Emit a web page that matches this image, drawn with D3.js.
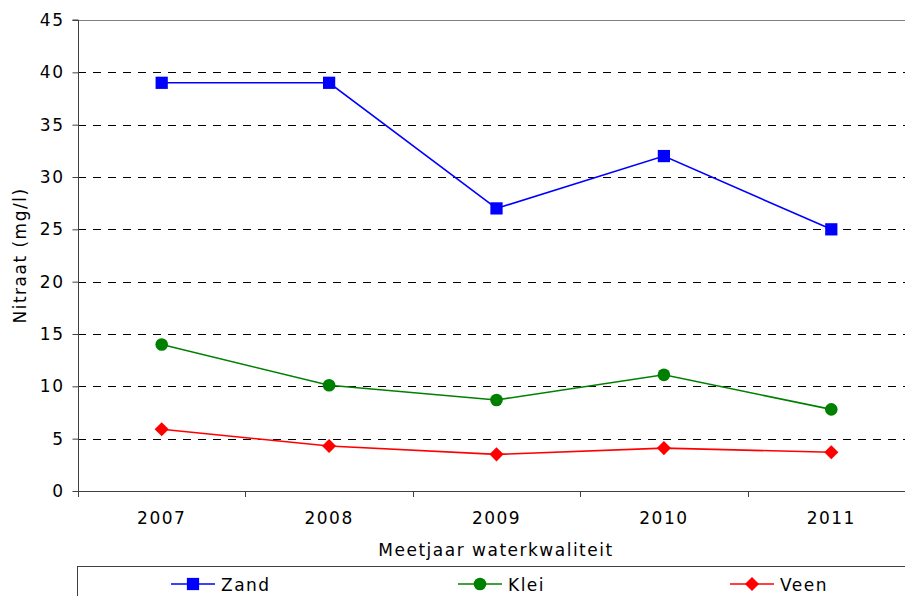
<!DOCTYPE html>
<html>
<head>
<meta charset="utf-8">
<script src="https://cdn.jsdelivr.net/npm/d3@7"></script>
<style>
  body { margin: 0; background: #fff; }
  svg text { font-family: 'DejaVu Sans', Verdana, sans-serif; fill: #000; letter-spacing: 1.5px; }
</style>
</head>
<body>
<div id="chart"></div>
<script>
// meetjaren en nitraatgehalten (mg/l)
const years = ['2007', '2008', '2009', '2010', '2011']
const zand = [39, 39, 27, 32, 25]
const klei = [14, 10.1, 8.7, 11.1, 7.8]
const veen = [5.9, 4.3, 3.5, 4.1, 3.7]
const yTicks = [0, 5, 10, 15, 20, 25, 30, 35, 40, 45]

const series = [
  { name: 'Zand', values: zand, color: '#0000ff', symbol: d3.symbolSquare, size: 150, rot: 0 },
  { name: 'Klei', values: klei, color: '#008000', symbol: d3.symbolCircle, size: 125, rot: 0 },
  { name: 'Veen', values: veen, color: '#ff0000', symbol: d3.symbolSquare, size: 100, rot: 45 }
]

const W = 905
const H = 596
const plotLeft = 78
const plotTop = 20
const plotW = 837
const plotH = 471

const svg = d3.select('#chart').append('svg')
  .attr('width', W)
  .attr('height', H)

const x = d3.scaleBand().domain(years).range([plotLeft, plotLeft + plotW])
const y = d3.scaleLinear().domain([0, 45]).range([plotTop + plotH, plotTop])

// rasterlijnen
svg.append('g').selectAll('line')
  .data(yTicks.filter(d => d > 0 && d < 45))
  .enter().append('line')
  .attr('x1', plotLeft).attr('x2', plotLeft + plotW)
  .attr('y1', d => Math.round(y(d)) + 0.5).attr('y2', d => Math.round(y(d)) + 0.5)
  .attr('stroke', '#000')
  .attr('stroke-dasharray', '8,7')

// bovenrand
svg.append('line')
  .attr('x1', plotLeft).attr('x2', plotLeft + plotW)
  .attr('y1', plotTop + 0.5).attr('y2', plotTop + 0.5)
  .attr('stroke', '#808080')

// y-as
const yAxis = svg.append('g')
  .attr('transform', `translate(${plotLeft + 0.5},0)`)
  .call(d3.axisLeft(y).tickValues(yTicks).tickSize(6).tickPadding(8))
yAxis.select('.domain').attr('stroke', '#404040').attr('d', `M-6,${plotTop}H0V${plotTop + plotH}`)
yAxis.selectAll('.tick line').attr('stroke', '#404040')
yAxis.selectAll('.tick text').style('font-size', '17px')

// x-as
const xAxis = svg.append('g')
  .attr('transform', `translate(0,${plotTop + plotH + 0.5})`)
  .call(d3.axisBottom(x).tickSize(0).tickPadding(20))
xAxis.select('.domain').attr('stroke', '#404040').attr('d', `M${plotLeft},0H${plotLeft + plotW}`)
xAxis.selectAll('.tick text').style('font-size', '17px')
svg.append('g').selectAll('line')
  .data(years.concat(['end']))
  .enter().append('line')
  .attr('x1', (d, i) => Math.round(plotLeft + i * x.bandwidth()) + 0.5)
  .attr('x2', (d, i) => Math.round(plotLeft + i * x.bandwidth()) + 0.5)
  .attr('y1', plotTop + plotH).attr('y2', plotTop + plotH + 6)
  .attr('stroke', '#404040')

// astitels
svg.append('text')
  .attr('x', 496).attr('y', 556)
  .attr('text-anchor', 'middle')
  .style('font-size', '17px')
  .text('Meetjaar waterkwaliteit')
svg.append('text')
  .attr('transform', `translate(26,${plotTop + plotH / 2}) rotate(-90)`)
  .attr('text-anchor', 'middle')
  .style('font-size', '17px')
  .text('Nitraat (mg/l)')

// lijnen en markers
const cx = (d, i) => x(years[i]) + x.bandwidth() / 2
const line = d3.line().x(cx).y(d => y(d))
series.forEach(s => {
  svg.append('path')
    .datum(s.values)
    .attr('d', line)
    .attr('fill', 'none')
    .attr('stroke', s.color)
    .attr('stroke-width', 1.6)
  svg.append('g').selectAll('path')
    .data(s.values)
    .enter().append('path')
    .attr('transform', (d, i) => `translate(${cx(d, i)},${y(d)}) rotate(${s.rot})`)
    .attr('d', d3.symbol().type(s.symbol).size(s.size))
    .attr('fill', s.color)
})

// legenda
svg.append('rect')
  .attr('x', 77.5).attr('y', 566.5)
  .attr('width', 860).attr('height', 60)
  .attr('fill', '#fff')
  .attr('stroke', '#404040')
const legendX = [193, 480, 752]
const legend = svg.append('g').selectAll('g')
  .data(series)
  .enter().append('g')
  .attr('transform', (d, i) => `translate(${legendX[i]},584)`)
legend.append('line')
  .attr('x1', -22).attr('x2', 22)
  .attr('stroke', d => d.color)
  .attr('stroke-width', 1.6)
legend.append('path')
  .attr('transform', d => `rotate(${d.rot})`)
  .attr('d', d => d3.symbol().type(d.symbol).size(d.size)())
  .attr('fill', d => d.color)
legend.append('text')
  .attr('x', 28).attr('y', 7)
  .style('font-size', '17px')
  .text(d => d.name)
</script>
</body>
</html>
